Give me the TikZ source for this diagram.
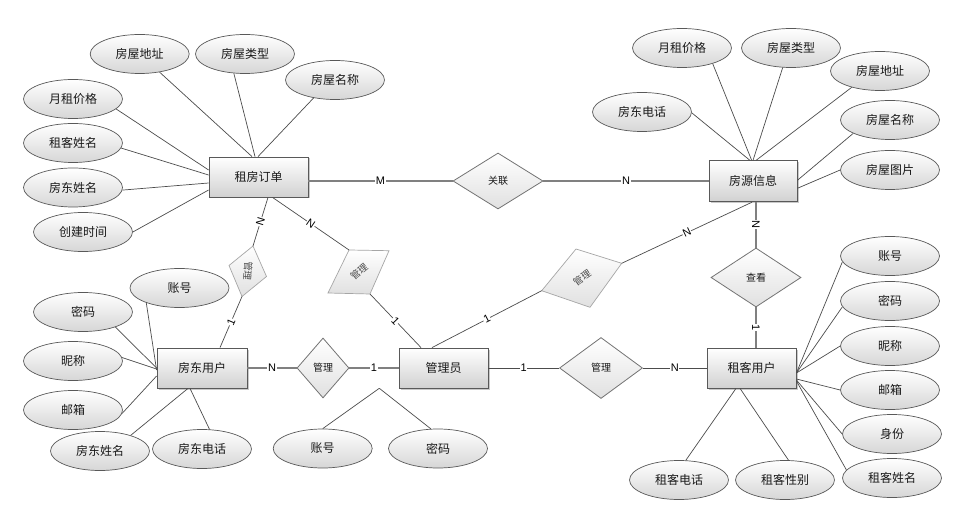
\documentclass[tikz,border=0pt]{standalone}
\usepackage{fontspec}
\setmainfont{Noto Sans CJK SC}
\newfontfamily\latf{Liberation Sans}
\usetikzlibrary{shapes.geometric,shadows}
\begin{document}
\begin{tikzpicture}[x=1pt,y=-1pt,
  ent/.style={rectangle,draw=black!65,line width=0.8pt,top color=white,bottom color=black!18,
    minimum height=40pt,inner sep=0pt,text=black!90,font=\fontsize{12}{14}\selectfont,
    drop shadow={shadow xshift=1.5pt,shadow yshift=-1.5pt,fill=black!35,opacity=0.6}},
  att/.style={ellipse,draw=black!65,line width=0.7pt,top color=white,bottom color=black!16,
    minimum width=99pt,minimum height=39pt,inner sep=0pt,text=black!90,font=\fontsize{12}{14}\selectfont},
  relbox/.style={diamond,draw=black!55,line width=0.8pt,top color=white,bottom color=black!12,
    inner sep=0pt,text=black!90,font=\fontsize{10}{12}\selectfont},
  sl/.style={draw=black!35,line width=0.7pt,top color=white,bottom color=black!12},
  sltxt/.style={font=\fontsize{9.5}{11}\selectfont,text=black!70,inner sep=0pt},
  ln/.style={draw=black!70,line width=0.7pt},
  cn/.style={draw=black!50,line width=1.3pt},
  lbl/.style={font=\latf\fontsize{11}{12}\selectfont,fill=white,inner sep=0.6pt,text=black}
]
\useasboundingbox (0,0) rectangle (973,510);
\fill[white] (0,0) rectangle (973,510);

% entities
\node[ent,minimum width=99pt] (ord) at (258.5,177) {租房订单};
\node[ent,minimum width=88pt,minimum height=41pt] (src) at (753,181.3) {房源信息};
\node[ent,minimum width=90pt] (ll) at (202,368) {房东用户};
\node[ent,minimum width=89pt] (adm) at (443.5,368) {管理员};
\node[ent,minimum width=89pt] (ten) at (751.5,368) {租客用户};

% relationships
\node[relbox,minimum width=90pt,minimum height=56pt] (assoc) at (498,181) {关联};
\node[relbox,minimum width=52pt,minimum height=60pt] (m1) at (323,368) {管理};
\node[relbox,minimum width=83pt,minimum height=61pt] (m2) at (601,368) {管理};
\node[relbox,minimum width=90pt,minimum height=59pt] (see) at (756,277.5) {查看};

% attributes of 租房订单
\node[att] (a1) at (139.7,54) {房屋地址};
\node[att] (a2) at (245,54) {房屋类型};
\node[att] (a3) at (335,80) {房屋名称};
\node[att] (a4) at (73,99) {月租价格};
\node[att] (a5) at (73,143) {租客姓名};
\node[att] (a6) at (73,187.5) {房东姓名};
\node[att] (a7) at (83,232) {创建时间};

% attributes of 房源信息
\node[att] (b1) at (682,48) {月租价格};
\node[att] (b2) at (791,48) {房屋类型};
\node[att] (b3) at (880,71) {房屋地址};
\node[att] (b4) at (642,112) {房东电话};
\node[att] (b5) at (890,120) {房屋名称};
\node[att] (b6) at (890,170) {房屋图片};

% attributes of 租客用户
\node[att] (c1) at (890,256) {账号};
\node[att] (c2) at (890,301) {密码};
\node[att] (c3) at (890,346) {昵称};
\node[att] (c4) at (890,390) {邮箱};
\node[att] (c5) at (892,434) {身份};
\node[att] (c6) at (892,478) {租客姓名};
\node[att] (c7) at (679,480) {租客电话};
\node[att] (c8) at (785,480) {租客性别};

% attributes of 房东用户
\node[att] (d1) at (179.5,288) {账号};
\node[att] (d2) at (83,312) {密码};
\node[att] (d3) at (73,361) {昵称};
\node[att] (d4) at (73,410) {邮箱};
\node[att] (d5) at (100,451) {房东姓名};
\node[att] (d6) at (202,449) {房东电话};

% attributes of 管理员
\node[att] (e1) at (322.7,448.5) {账号};
\node[att] (e2) at (438,448.5) {密码};
\coordinate (J) at (379.3,388.3);

% attribute lines
\draw[ln] (a1) -- ([xshift=-6.5pt]ord.north);
\draw[ln] (a2.-120) -- ([xshift=-3.5pt]ord.north);
\draw[ln] (a3.-140) -- ([xshift=-0.5pt]ord.north);
\draw[ln] (a4.-13) -- ([yshift=7pt]ord.west);
\draw[ln] (a5.-6) -- ([yshift=2pt]ord.west);
\draw[ln] (a6.-3) -- ([yshift=-6pt]ord.west);
\draw[ln] (a7.east) -- ([yshift=-13pt]ord.west);

\draw[ln] (b4.-1) -- ([xshift=-3pt]src.north);
\draw[ln] (b1.-27) -- ([xshift=-1.3pt]src.north);
\draw[ln] (b2.-113) -- (src.north);
\draw[ln] (b3.-150) -- ([xshift=3pt]src.north);
\draw[ln] (b5.-160) -- ([yshift=1pt]src.east);
\draw[ln] (b6.west) -- ([yshift=-7pt]src.east);

\draw[ln] (c1.-173) -- ([yshift=-5pt]ten.east);
\draw[ln] (c2.-173) -- ([yshift=-5pt]ten.east);
\draw[ln] (c3.west) -- ([yshift=-5pt]ten.east);
\draw[ln] (c4.west) -- ([yshift=-11pt]ten.east);
\draw[ln] (c5.west) -- ([yshift=-12pt]ten.east);
\draw[ln] (c6.170) -- ([yshift=-13pt]ten.east);
\draw[ln] (c7.71) -- ([xshift=-15.5pt]ten.south);
\draw[ln] (c8.80) -- ([xshift=-11.5pt]ten.south);

\draw[ln] (d1.-156) -- ([yshift=-2pt]ll.west);
\draw[ln] (d2.-25) -- (ll.west);
\draw[ln] (d3.4) -- ([yshift=-1pt]ll.west);
\draw[ln] (d4.-4) -- ([yshift=-8pt]ll.west);
\draw[ln] (d5.27) -- ([xshift=-14pt]ll.south);
\draw[ln] (d6.69) -- ([xshift=-12pt]ll.south);

\draw[ln] (e1.north) -- (J);
\draw[ln] (e2.110) -- (J);

% slanted relationship shapes
\coordinate (p1t) at (253,246);
\coordinate (p1l) at (229,265.5);
\coordinate (p1b) at (242,296.5);
\coordinate (p1r) at (266.5,276.5);
\draw[sl] (p1t) -- (p1l) -- (p1b) -- (p1r) -- cycle;
\node[sltxt,rotate=-95] (p1) at (248,271) {管理};

\coordinate (p2tl) at (349,250);
\coordinate (p2tr) at (389,250.7);
\coordinate (p2br) at (370,294);
\coordinate (p2bl) at (328,293);
\draw[sl] (p2tl) -- (p2tr) -- (p2br) -- (p2bl) -- cycle;
\node[sltxt,rotate=40] (p2) at (359,272) {管理};

\coordinate (p3l) at (541.7,290.7);
\coordinate (p3t) at (576,249);
\coordinate (p3r) at (621.7,263.3);
\coordinate (p3b) at (590,307.3);
\draw[sl] (p3l) -- (p3t) -- (p3r) -- (p3b) -- cycle;
\node[sltxt,rotate=35] (p3) at (582,278) {管理};

% slanted connectors
\draw[ln] ([xshift=9.5pt]ord.south) -- node[lbl,sloped]{N} (p1t);
\draw[ln] (p1b) -- node[lbl,sloped]{1} ([xshift=18pt]ll.north);
\draw[ln] ([xshift=14pt]ord.south) -- node[lbl,sloped]{N} (p2tl);
\draw[ln] (p2br) -- node[lbl,sloped]{1} ([xshift=-22.5pt]adm.north);
\draw[ln] ([xshift=-11.5pt]adm.north) -- node[lbl,sloped]{1} (p3l);
\draw[ln] (p3r) -- node[lbl,sloped]{N} ([xshift=-1pt]src.south);

% straight connectors
\draw[cn] (assoc.west -| ord.east) -- node[lbl]{M} (assoc.west);
\draw[cn] (assoc.east) -- node[lbl]{N} (assoc.east -| src.west);
\draw[cn] (ll.east) -- node[lbl]{N} (m1.west);
\draw[cn] (m1.east) -- node[lbl]{1} (adm.west);
\draw[ln] (adm.east) -- node[lbl]{1} (m2.west);
\draw[ln] (m2.east) -- node[lbl]{N} (ten.west);
\draw[cn] (src.south -| see.north) -- node[lbl,sloped]{N} (see.north);
\draw[cn] (see.south) -- node[lbl,sloped]{1} (see.south |- ten.north);
\end{tikzpicture}
\end{document}
